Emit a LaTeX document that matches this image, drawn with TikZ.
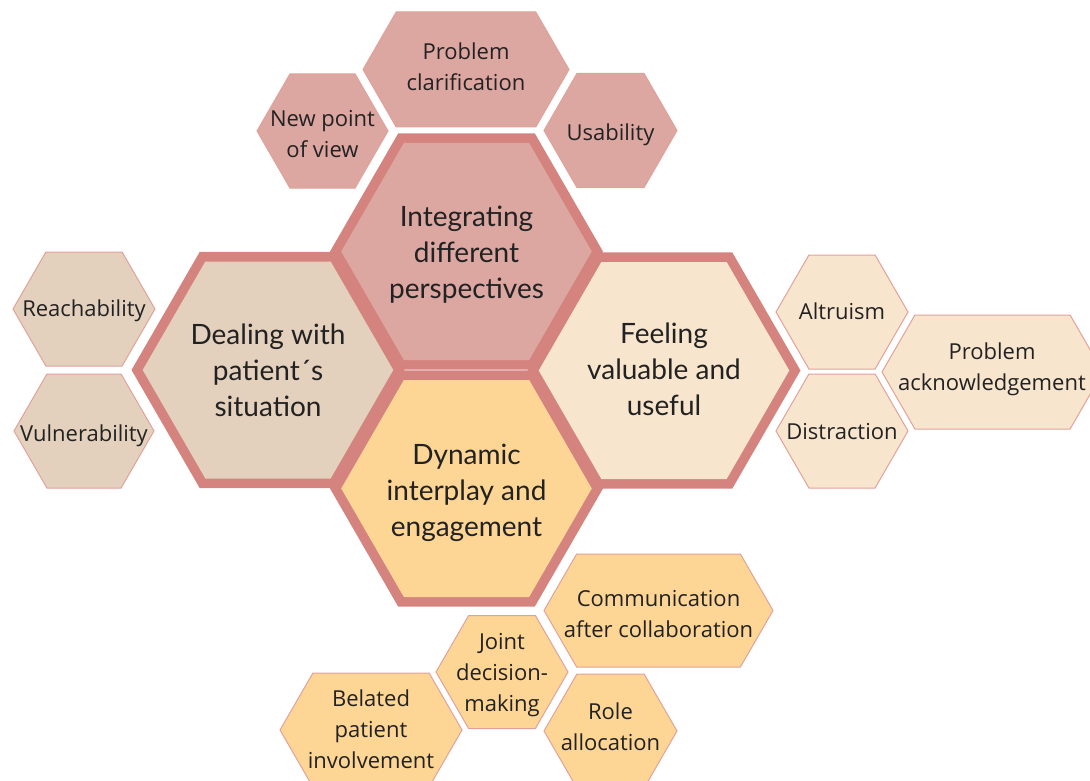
\documentclass[tikz,border=0pt]{standalone}
\usepackage{fontspec}
\setmainfont{Open Sans}
\newfontfamily\themefont{Lato}
\usetikzlibrary{calc}

\definecolor{rim}{HTML}{D4837E}
\definecolor{rose}{HTML}{DCA6A1}
\definecolor{sand}{HTML}{E3D1BD}
\definecolor{cream}{HTML}{F8E5CD}
\definecolor{apricot}{HTML}{FDD595}
\definecolor{edge}{HTML}{E2A29B}
\definecolor{ink}{HTML}{222222}

% hexagon with pointed left/right ends: style, cx, cy, half width, half height
\newcommand\hexcell[5]{%
  \pgfmathsetmacro\hexd{0.57735*#5}%
  \path[#1] ({#2-#4},{#3}) -- ({#2-#4+\hexd},{#3-#5}) -- ({#2+#4-\hexd},{#3-#5})
    -- ({#2+#4},{#3}) -- ({#2+#4-\hexd},{#3+#5}) -- ({#2-#4+\hexd},{#3+#5}) -- cycle;}
% theme hexagon: thick rim plus inner fill
\newcommand\themehex[3]{%
  \hexcell{fill=rim}{#2}{#3}{136.5}{118.2}%
  \hexcell{fill=#1}{#2}{#3}{125.3}{108.5}}

\tikzset{
  subhex/.style={draw=edge, line width=1pt, line join=miter},
  themetext/.style={font=\themefont\fontsize{28}{36}\selectfont, align=center, text=ink, inner sep=0pt},
  subtext/.style={font=\fontsize{22}{31}\selectfont, align=center, text=ink, inner sep=0pt},
}

\begin{document}
\begin{tikzpicture}[x=1pt, y=-1pt]
\useasboundingbox (0,0) rectangle (1090,781);
\clip (0,0) rectangle (1090,781);
\fill[white] (0,0) rectangle (1090,781);

% central honeycomb of the four themes
\themehex{sand}{268}{370}
\themehex{cream}{664}{370.5}
\themehex{rose}{466.5}{251.5}
\themehex{apricot}{466.5}{488.5}

% sub-themes of "Integrating different perspectives"
\hexcell{subhex, fill=rose}{466}{69.5}{103}{57.5}
\hexcell{subhex, fill=rose}{322.5}{131}{65.5}{57}
\hexcell{subhex, fill=rose}{610.5}{130.5}{66.5}{57}

% sub-themes of "Dealing with patient's situation"
\hexcell{subhex, fill=sand}{84}{309}{71}{57}
\hexcell{subhex, fill=sand}{84}{431}{70}{57}

% sub-themes of "Feeling valuable and useful"
\hexcell{subhex, fill=cream}{842}{312}{66}{57}
\hexcell{subhex, fill=cream}{842}{431}{66}{57}
\hexcell{subhex, fill=cream}{992.5}{372}{110.5}{57}

% sub-themes of "Dynamic interplay and engagement"
\hexcell{subhex, fill=apricot}{658.5}{610.5}{114.5}{56.5}
\hexcell{subhex, fill=apricot}{502}{672}{66}{56.5}
\hexcell{subhex, fill=apricot}{610.5}{731}{66.5}{57}
\hexcell{subhex, fill=apricot}{371}{730}{91}{57}

% theme labels
\node[themetext] (integrating) at (466.5,255) {Integrating\\different\\perspectives};
\node[themetext] (dealing) at (268,370) {Dealing with\\patient´s\\situation};
\node[themetext] (feeling) at (664,369) {Feeling\\valuable and\\useful};
\node[themetext] (dynamic) at (466.5,493) {Dynamic\\interplay and\\engagement};

% sub-theme labels
\node[subtext] (clarification) at (466,66.5) {Problem\\clarification};
\node[subtext] (viewpoint) at (322.5,134) {New point\\of view};
\node[subtext] (usability) at (610.5,135) {Usability};
\node[subtext] (reachability) at (84,311) {Reachability};
\node[subtext] (vulnerability) at (84,436) {Vulnerability};
\node[subtext] (altruism) at (842,311) {Altruism};
\node[subtext] (distraction) at (842,432) {Distraction};
\node[subtext] (acknowledgement) at (992,369.5) {Problem\\acknowledgement};
\node[subtext] (communication) at (658.5,614) {Communication\\after collaboration};
\node[subtext] (joint) at (502,675) {Joint\\decision-\\making};
\node[subtext] (roles) at (610.5,727) {Role\\allocation};
\node[subtext] (belated) at (371,729) {Belated\\patient\\involvement};
\end{tikzpicture}
\end{document}
